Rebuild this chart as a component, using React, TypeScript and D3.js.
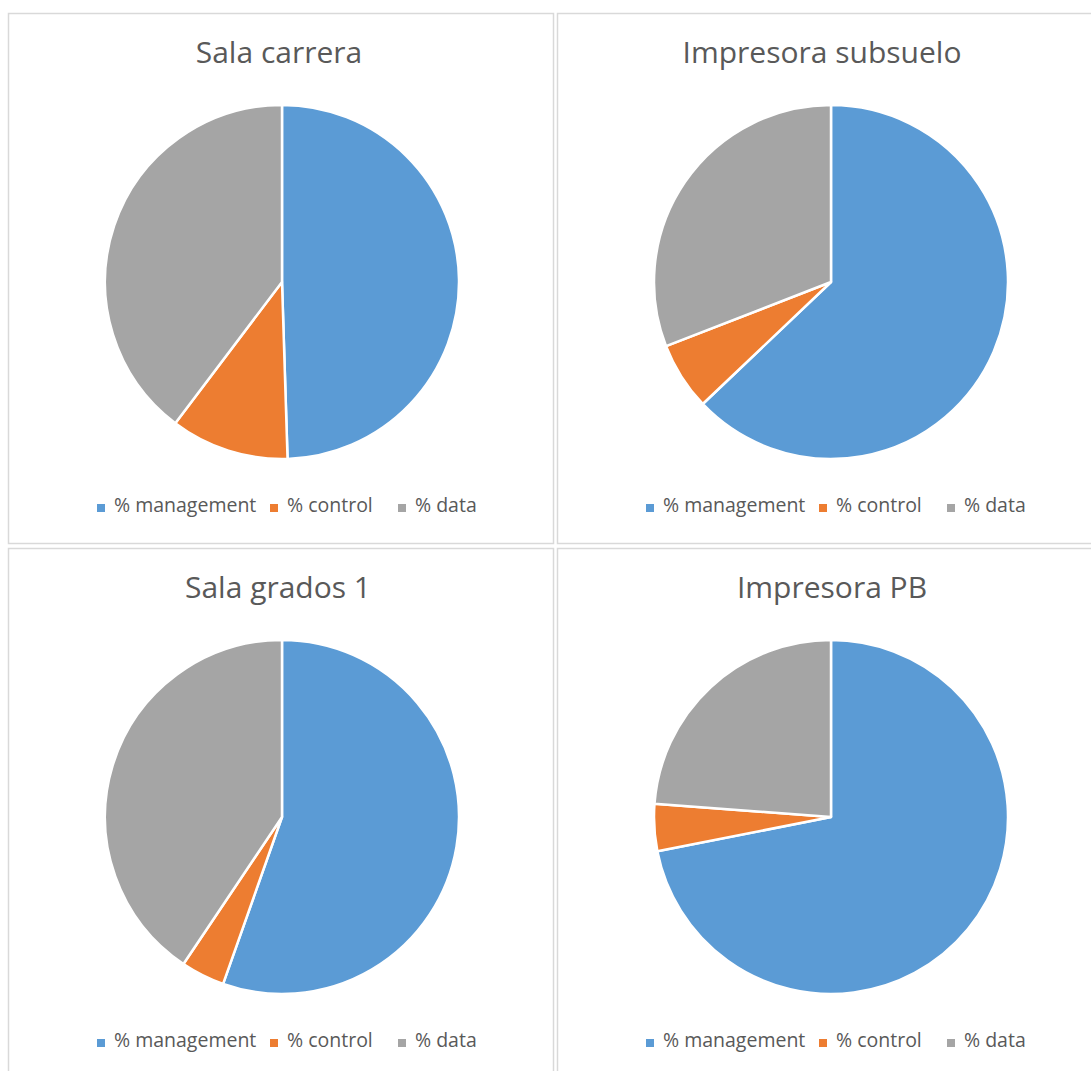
import React from "react";
import * as d3 from "d3";

const seriesNames = ["% management", "% control", "% data"];
const colors = ["#5B9BD5", "#ED7D31", "#A5A5A5"];
const chartTitles = ["Sala carrera", "Impresora subsuelo", "Sala grados 1", "Impresora PB"];
const salaCarrera = [49.5, 10.8, 39.7];
const impresoraSubsuelo = [62.9, 6.2, 30.9];
const salaGrados1 = [55.4, 4.0, 40.6];
const impresoraPB = [71.9, 4.3, 23.8];
const allValues = [salaCarrera, impresoraSubsuelo, salaGrados1, impresoraPB];

const panels = [
  { x: 8, y: 13, w: 545, h: 530, titleX: 279 },
  { x: 557, y: 13, w: 540, h: 530, titleX: 822 },
  { x: 8, y: 548, w: 545, h: 530, titleX: 278 },
  { x: 557, y: 548, w: 540, h: 530, titleX: 832 },
];

const FONT = "'Open Sans', Lato, sans-serif";
const TEXT = "#595959";

function Panel({ idx }: { idx: number }) {
  const p = panels[idx];
  const values = allValues[idx];
  const pie = d3.pie<number>().sort(null).value((d) => d);
  const arcs = pie(values);
  const r = 177;
  const arc = d3.arc<d3.PieArcDatum<number>>().innerRadius(0).outerRadius(r);
  const cx = p.x + 274;
  const cy = p.y + 269;
  const legendX = p.x + 89;
  const legendOffsets = [0, 173, 301];
  return (
    <g>
      <rect x={p.x + 0.5} y={p.y + 0.5} width={p.w} height={p.h} fill="#fff" stroke="#d9d9d9" strokeWidth={1.5} />
      <text x={p.titleX} y={p.y + 50} textAnchor="middle" fontFamily={FONT} fontSize={30} fill={TEXT}>
        {chartTitles[idx]}
      </text>
      <g transform={`translate(${cx},${cy})`}>
        {arcs.map((a, i) => (
          <path key={i} d={arc(a) || ""} fill={colors[i]} stroke="#fff" strokeWidth={2.5} strokeLinejoin="round" />
        ))}
      </g>
      {seriesNames.map((s, i) => {
        const lx = legendX + legendOffsets[i];
        return (
          <g key={s}>
            <rect x={lx} y={p.y + 491} width={8} height={8} fill={colors[i]} />
            <text x={lx + 17} y={p.y + 499} fontFamily={FONT} fontSize={19.5} fill={TEXT}>
              {s}
            </text>
          </g>
        );
      })}
    </g>
  );
}

export default function App() {
  return (
    <svg width={1091} height={1071} style={{ position: "absolute", left: 0, top: 0, background: "#fff" }}>
      <rect x={0} y={0} width={1091} height={1071} fill="#fff" />
      {[0, 1, 2, 3].map((i) => (
        <Panel key={i} idx={i} />
      ))}
    </svg>
  );
}
